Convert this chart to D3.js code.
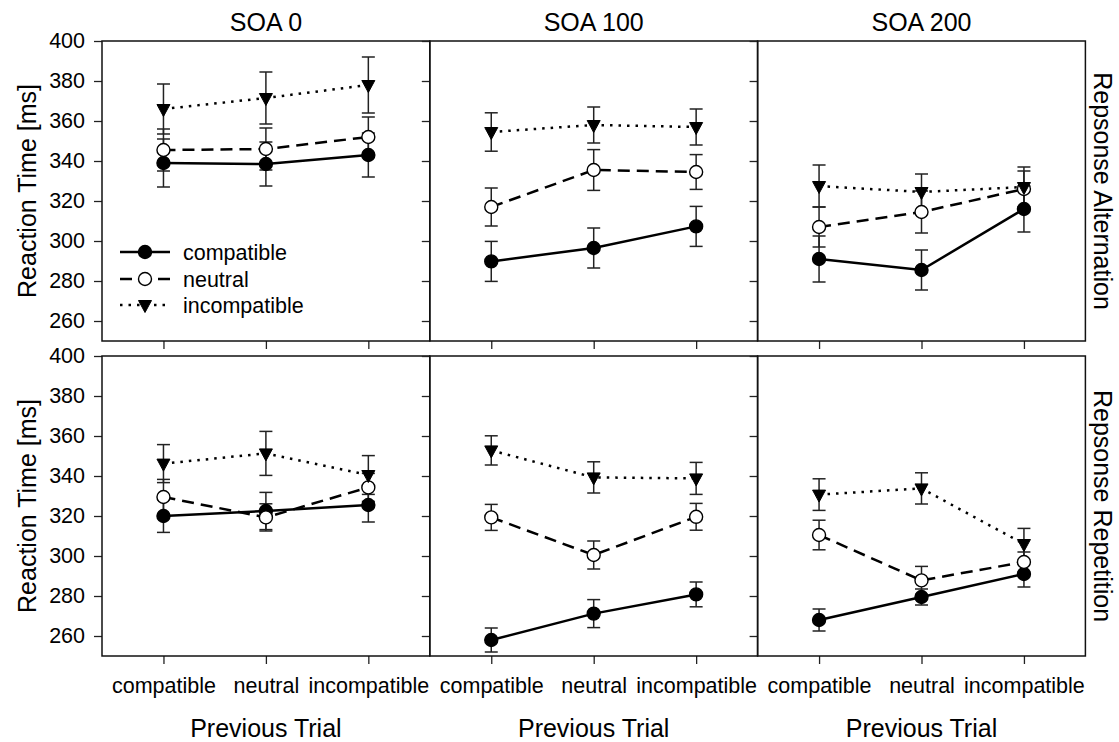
<!DOCTYPE html>
<html>
<head>
<meta charset="utf-8">
<script src="https://cdn.jsdelivr.net/npm/d3@7"></script>
<style>
  html, body { margin: 0; padding: 0; background: #fff; }
  svg { display: block; }
  text { font-family: "Liberation Sans", Arial, Helvetica, sans-serif; fill: #000; }
</style>
</head>
<body>
<svg id="chart" width="1119" height="742"></svg>
<script>
// Columns (stimulus onset asynchrony) and rows (response sequence)
const soaLevels = ["SOA 0", "SOA 100", "SOA 200"];
const sequences = ["Repsonse Alternation", "Repsonse Repetition"];
const previousTrial = ["compatible", "neutral", "incompatible"];
const seriesNames = ["compatible", "neutral", "incompatible"];
const yTicks = [260, 280, 300, 320, 340, 360, 380, 400];

// Mean reaction times [ms]; one inner array per SOA, ordered by previous trial
const altCompatibleMean   = [[339, 338.5, 343], [289.8, 296.5, 307.3], [291, 285.5, 316]];
const altNeutralMean      = [[345.5, 346, 352], [317, 335.5, 334.5], [307, 314.5, 326]];
const altIncompatibleMean = [[366, 371.5, 378], [354.5, 358, 357], [327.5, 324.5, 327]];
const repCompatibleMean   = [[320, 322.5, 325.5], [258, 271.2, 280.8], [268, 279.5, 291]];
const repNeutralMean      = [[329.5, 319.3, 334.3], [319.3, 300.5, 319.6], [310.5, 287.8, 297]];
const repIncompatibleMean = [[346.2, 351.3, 340.5], [352.8, 339.3, 338.8], [330.7, 333.8, 306]];

// Standard errors [ms]
const altCompatibleSE   = [[12, 11, 11], [10, 10, 10], [11.5, 10, 11.5]];
const altNeutralSE      = [[10.5, 10.5, 10], [9.5, 10.2, 8.7], [10, 10.5, 9]];
const altIncompatibleSE = [[12.5, 13, 14], [9.6, 9, 9], [10.5, 9, 10]];
const repCompatibleSE   = [[8.2, 9.3, 8.5], [6, 7, 6.2], [5.5, 4, 6.5]];
const repNeutralSE      = [[8.8, 6.8, 7], [6.5, 7, 6.7], [7.4, 7, 5]];
const repIncompatibleSE = [[9.5, 11, 9.7], [7.3, 7.8, 8], [7.9, 7.8, 7.8]];

const rowData = [
  { means: [altCompatibleMean, altNeutralMean, altIncompatibleMean],
    ses:   [altCompatibleSE, altNeutralSE, altIncompatibleSE] },
  { means: [repCompatibleMean, repNeutralMean, repIncompatibleMean],
    ses:   [repCompatibleSE, repNeutralSE, repIncompatibleSE] }
];

// Layout
const plotLeft = 102, plotTop = 41, panelW = 327.8, panelH = 300, rowGap = 15;
const svg = d3.select("#chart");

const x = d3.scalePoint().domain(previousTrial).range([0, panelW]).padding(0.6);
const y = d3.scaleLinear().domain([250, 400]).range([panelH, 0]);

const styles = {
  compatible:   { dash: null,    fill: "#000" },
  neutral:      { dash: "12,7",  fill: "#fff" },
  incompatible: { dash: "2.5,6", fill: "#000" }
};

function drawMarker(g, name, cx, cy) {
  if (name === "incompatible") {
    g.append("path")
      .attr("d", "M-6.5,-4.5 L6.5,-4.5 L0,7.5 Z")
      .attr("transform", `translate(${cx},${cy})`)
      .attr("fill", "#000").attr("stroke", "#000").attr("stroke-width", 1);
  } else {
    g.append("circle").attr("cx", cx).attr("cy", cy).attr("r", 6.5)
      .attr("fill", styles[name].fill).attr("stroke", "#000").attr("stroke-width", 1.4);
  }
}

const line = d3.line().x(d => x(d.cat)).y(d => y(d.v));

rowData.forEach((row, r) => {
  const py = plotTop + r * (panelH + rowGap);
  soaLevels.forEach((soa, c) => {
    const px = plotLeft + c * panelW;
    const g = svg.append("g").attr("transform", `translate(${px},${py})`);

    // y axis (outward ticks on every panel, labels on the first column)
    const yAxis = d3.axisLeft(y).tickValues(yTicks).tickSize(8).tickPadding(9)
      .tickFormat(c === 0 ? d3.format("d") : () => "");
    const ya = g.append("g").call(yAxis);
    ya.select(".domain").remove();
    ya.selectAll("line").attr("stroke", "#222").attr("stroke-width", 1.3);
    ya.selectAll("text").style("font-size", "21.5px");

    // x axis (labels on the bottom row)
    const xAxis = d3.axisBottom(x).tickSize(8).tickPadding(14)
      .tickFormat(r === 1 ? d => d : () => "");
    const xa = g.append("g").attr("transform", `translate(0,${panelH})`).call(xAxis);
    xa.select(".domain").remove();
    xa.selectAll("line").attr("stroke", "#222").attr("stroke-width", 1.3);
    xa.selectAll("text").style("font-size", "21.5px");

    // panel frame
    g.append("rect").attr("width", panelW).attr("height", panelH)
      .attr("fill", "none").attr("stroke", "#111").attr("stroke-width", 1.5);

    const series = seriesNames.map((name, s) => ({
      name,
      pts: previousTrial.map((cat, i) => ({ cat, v: row.means[s][c][i], se: row.ses[s][c][i] }))
    }));

    // error bars
    series.forEach(sr => {
      sr.pts.forEach(p => {
        const cx = x(p.cat);
        const eb = g.append("g").attr("stroke", "#222").attr("stroke-width", 1.5);
        eb.append("line").attr("x1", cx).attr("x2", cx).attr("y1", y(p.v - p.se)).attr("y2", y(p.v + p.se));
        [p.v - p.se, p.v + p.se].forEach(v => {
          eb.append("line").attr("x1", cx - 6.5).attr("x2", cx + 6.5).attr("y1", y(v)).attr("y2", y(v));
        });
      });
    });

    // connecting lines
    series.forEach(sr => {
      g.append("path").datum(sr.pts).attr("d", line)
        .attr("fill", "none").attr("stroke", "#000").attr("stroke-width", 2.5)
        .attr("stroke-dasharray", styles[sr.name].dash);
    });

    // markers
    series.forEach(sr => {
      sr.pts.forEach(p => drawMarker(g, sr.name, x(p.cat), y(p.v)));
    });

    // column titles
    if (r === 0) {
      svg.append("text").attr("x", px + panelW / 2).attr("y", 31)
        .attr("text-anchor", "middle").style("font-size", "25px").text(soa);
    }
    // x axis title
    if (r === 1) {
      svg.append("text").attr("x", px + panelW / 2).attr("y", 737)
        .attr("text-anchor", "middle").style("font-size", "25px").text("Previous Trial");
    }
  });

  // y axis title and row label
  const cy = py + panelH / 2;
  svg.append("text").attr("transform", `translate(36,${cy}) rotate(-90)`)
    .attr("text-anchor", "middle").style("font-size", "25px").text("Reaction Time [ms]");
  svg.append("text").attr("transform", `translate(1094,${cy}) rotate(90)`)
    .attr("text-anchor", "middle").style("font-size", "25px").text(sequences[r]);
});

// legend inside the first panel
const legend = svg.append("g").attr("transform", `translate(${plotLeft},${plotTop})`);
const legendY = [211, 238, 264];
seriesNames.forEach((name, i) => {
  const ly = legendY[i];
  legend.append("line").attr("x1", 18).attr("x2", 68).attr("y1", ly).attr("y2", ly)
    .attr("stroke", "#000").attr("stroke-width", 2.5)
    .attr("stroke-dasharray", styles[name].dash);
  drawMarker(legend, name, 43, ly);
  legend.append("text").attr("x", 81).attr("y", ly).attr("dy", "0.35em")
    .style("font-size", "21.5px").text(name);
});
</script>
</body>
</html>
